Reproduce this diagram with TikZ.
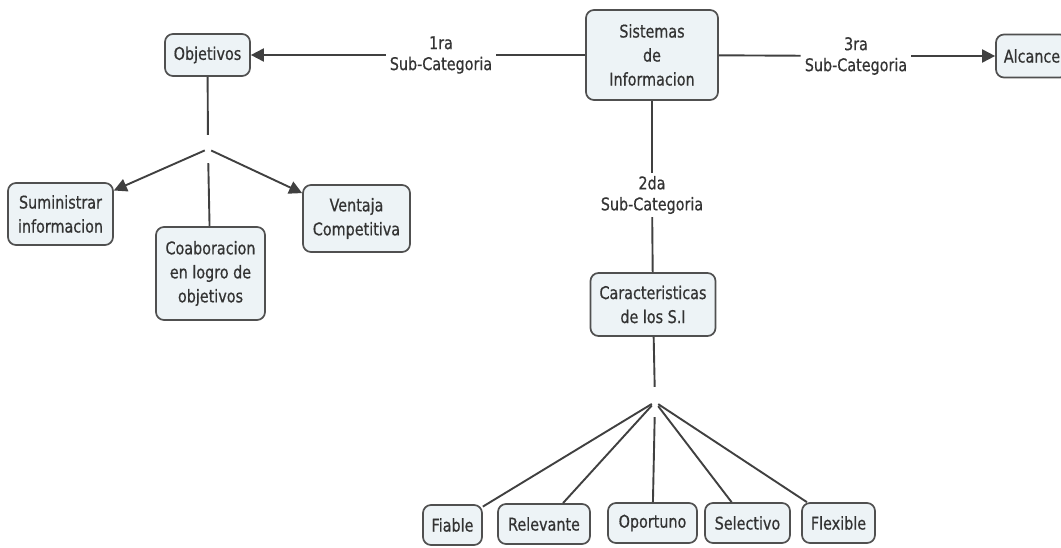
\documentclass[tikz,border=0pt]{standalone}
\usepackage{fontspec}
\setmainfont[FakeStretch=0.82,FakeBold=0.6]{DejaVu Sans}
\usetikzlibrary{arrows.meta}
\definecolor{ink}{HTML}{333333}
\definecolor{boxfill}{HTML}{EDF3F6}
\definecolor{boxline}{HTML}{505050}
\definecolor{wirecol}{HTML}{404040}
\begin{document}
\begin{tikzpicture}[x=1pt,y=-1pt,
  concept/.style={draw=boxline, line width=1.7pt, fill=boxfill, rounded corners=8pt,
    inner sep=0pt, align=center, text=ink, font=\fontsize{17.5}{24}\selectfont},
  phrase/.style={inner xsep=4pt, inner ysep=3pt, align=center, text=ink,
    font=\fontsize{17.5}{21}\selectfont},
  hub/.style={inner sep=0pt, minimum width=6pt},
  wire/.style={draw=wirecol, line width=1.9pt},
  arrowwire/.style={wire, -{Triangle[length=13pt,width=13pt]}}]

\useasboundingbox (0,0) rectangle (1061,548);

% top row
\node[concept, minimum width=85pt, minimum height=42pt] (obj) at (207.5,55) {Objetivos};
\node[concept, minimum width=132pt, minimum height=90pt] (sis) at (652,55) {Sistemas\\de\\Informacion};
\node[concept, minimum width=72pt, minimum height=43pt] (alc) at (1032,56) {Alcance};

\node[phrase] (l1) at (441,55) {1ra\\Sub-Categoria};
\node[phrase] (l3) at (856,56) {3ra\\Sub-Categoria};
\node[phrase] (l2) at (652,195) {2da\\Sub-Categoria};

% left branch
\node[concept, minimum width=105pt, minimum height=62pt] (sum) at (60.5,214) {Suministrar\\informacion};
\node[concept, minimum width=109pt, minimum height=93pt] (coab) at (210.5,273.5) {Coaboracion\\en logro de\\objetivos};
\node[concept, minimum width=107pt, minimum height=67pt] (vent) at (356.5,218.5) {Ventaja\\Competitiva};
\node[hub, minimum height=28pt] (hA) at (208,149) {};

% lower branch
\node[concept, minimum width=125pt, minimum height=63pt] (car) at (653,304.5) {Caracteristicas\\de los S.I};
\node[hub, minimum height=30pt] (hB) at (655,402) {};
\node[concept, minimum width=59pt, minimum height=40pt] (fia) at (452.5,525) {Fiable};
\node[concept, minimum width=92pt, minimum height=40pt] (rel) at (544,524) {Relevante};
\node[concept, minimum width=89pt, minimum height=40pt] (opo) at (652.5,523) {Oportuno};
\node[concept, minimum width=85pt, minimum height=40pt] (sel) at (747.5,523) {Selectivo};
\node[concept, minimum width=73pt, minimum height=40pt] (fle) at (838.5,523) {Flexible};

% connectors
\draw[wire] (sis) -- (l1);
\draw[arrowwire] (l1) -- (obj);
\draw[wire] (sis) -- (l3);
\draw[arrowwire] (l3) -- (alc);
\draw[wire] (sis) -- (l2);
\draw[wire] (l2) -- (car);

\draw[wire] (obj) -- (hA);
\draw[arrowwire] (hA) -- (sum);
\draw[arrowwire] (hA) -- (vent);
\draw[wire] (hA) -- (coab);

\draw[wire] (car) -- (hB);
\draw[wire] (hB) -- (fia);
\draw[wire] (hB) -- (rel);
\draw[wire] (hB) -- (opo);
\draw[wire] (hB) -- (sel);
\draw[wire] (hB) -- (fle);
\end{tikzpicture}
\end{document}
